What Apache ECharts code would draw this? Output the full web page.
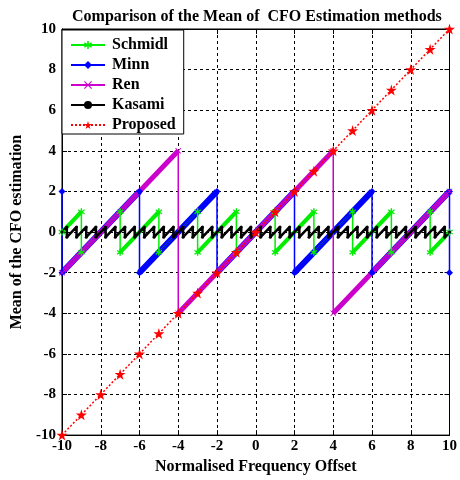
<!DOCTYPE html>
<html>
<head>
<meta charset="utf-8">
<script src="https://cdn.jsdelivr.net/npm/echarts@6/dist/echarts.min.js"></script>
<style>
  html, body { margin: 0; padding: 0; background: #fff; }
  #chart { width: 460px; height: 480px; }
</style>
</head>
<body>
<div id="chart"></div>
<script>
// vertices of each curve
const schmidlX = [-10, -9, -9, -7, -7, -5, -5, -3, -3, -1, -1, 1, 1, 3, 3, 5, 5, 7, 7, 9, 9, 10];
const schmidlY = [0, 1, -1, 1, -1, 1, -1, 1, -1, 1, -1, 1, -1, 1, -1, 1, -1, 1, -1, 1, -1, 0];

const minnX = [-10, -10, -6, -6, -2, -2, 2, 2, 6, 6, 10, 10];
const minnY = [2, -2, 2, -2, 2, -2, 2, -2, 2, -2, 2, -2];

const renX = [-10, -4, -4, 4, 4, 10];
const renY = [-2, 4, -4, 4, -4, 2];

const kasamiX = [-10,
  -9.75, -9.75, -9.25, -9.25, -8.75, -8.75, -8.25, -8.25, -7.75, -7.75,
  -7.25, -7.25, -6.75, -6.75, -6.25, -6.25, -5.75, -5.75, -5.25, -5.25,
  -4.75, -4.75, -4.25, -4.25, -3.75, -3.75, -3.25, -3.25, -2.75, -2.75,
  -2.25, -2.25, -1.75, -1.75, -1.25, -1.25, -0.75, -0.75, -0.25, -0.25,
  0.25, 0.25, 0.75, 0.75, 1.25, 1.25, 1.75, 1.75, 2.25, 2.25,
  2.75, 2.75, 3.25, 3.25, 3.75, 3.75, 4.25, 4.25, 4.75, 4.75,
  5.25, 5.25, 5.75, 5.75, 6.25, 6.25, 6.75, 6.75, 7.25, 7.25,
  7.75, 7.75, 8.25, 8.25, 8.75, 8.75, 9.25, 9.25, 9.75, 9.75,
  10];
const kasamiY = [0,
  0.25, -0.25, 0.25, -0.25, 0.25, -0.25, 0.25, -0.25, 0.25, -0.25,
  0.25, -0.25, 0.25, -0.25, 0.25, -0.25, 0.25, -0.25, 0.25, -0.25,
  0.25, -0.25, 0.25, -0.25, 0.25, -0.25, 0.25, -0.25, 0.25, -0.25,
  0.25, -0.25, 0.25, -0.25, 0.25, -0.25, 0.25, -0.25, 0.25, -0.25,
  0.25, -0.25, 0.25, -0.25, 0.25, -0.25, 0.25, -0.25, 0.25, -0.25,
  0.25, -0.25, 0.25, -0.25, 0.25, -0.25, 0.25, -0.25, 0.25, -0.25,
  0.25, -0.25, 0.25, -0.25, 0.25, -0.25, 0.25, -0.25, 0.25, -0.25,
  0.25, -0.25, 0.25, -0.25, 0.25, -0.25, 0.25, -0.25, 0.25, -0.25,
  0];

const proposedX = [-10, -9, -8, -7, -6, -5, -4, -3, -2, -1, 0, 1, 2, 3, 4, 5, 6, 7, 8, 9, 10];
const proposedY = [-10, -9, -8, -7, -6, -5, -4, -3, -2, -1, 0, 1, 2, 3, 4, 5, 6, 7, 8, 9, 10];

const legendNames = ['Schmidl', 'Minn', 'Ren', 'Kasami', 'Proposed'];

const FONT = "'Liberation Serif', 'Times New Roman', serif";
const COLORS = {
  SCHMIDL: '#00ee00',
  MINN: '#0000ff',
  REN: '#cc00cc',
  KASAMI: '#000000',
  PROPOSED: '#ff0000',
};

const SYMBOLS = {
  STAR5: 'path://M50,0L61,35L98,35L68,57L79,91L50,70L21,91L32,57L2,35L39,35Z',
  CROSS: 'path://M0,1L1,0L5,4L9,0L10,1L6,5L10,9L9,10L5,6L1,10L0,9L4,5Z',
  ASTER: 'path://M4,0L6,0L6,3.5L9,1.5L10,3L7,5L10,7L9,8.5L6,6.5L6,10L4,10L4,6.5L1,8.5L0,7L3,5L0,3L1,1.5L4,3.5Z',
};

const zipXY = (xs, ys) => xs.map((x, i) => [x, ys[i]]);

// the sloped parts are drawn thick (the dense markers in the original), the jumps thin
const rampSegments = (xs, ys) => {
  const segs = [];
  for (let i = 0; i < xs.length - 1; i++) {
    if (xs[i] !== xs[i + 1]) {
      segs.push({ coords: [[xs[i], ys[i]], [xs[i + 1], ys[i + 1]]] });
    }
  }
  return segs;
};

const lineSeries = (name, xs, ys, color, symbol, symbolSize, width) => ({
  name: name,
  type: 'line',
  data: zipXY(xs, ys),
  symbol: symbol,
  symbolSize: symbolSize,
  showAllSymbol: true,
  clip: false,
  animation: false,
  itemStyle: { color: color },
  lineStyle: { color: color, width: width },
});

const rampSeries = (name, xs, ys, color, width) => ({
  name: name + ' ramps',
  type: 'lines',
  coordinateSystem: 'cartesian2d',
  polyline: false,
  data: rampSegments(xs, ys),
  silent: true,
  animation: false,
  lineStyle: { color: color, width: width, opacity: 1, cap: 'butt' },
});

const axisCommon = {
  min: -10,
  max: 10,
  interval: 2,
  axisLine: { show: true, onZero: false, lineStyle: { color: '#000', width: 1 } },
  axisTick: { show: true, inside: true, length: 5, lineStyle: { color: '#000' } },
};

const chart = echarts.init(document.getElementById('chart'), null, { renderer: 'canvas' });

chart.setOption({
  backgroundColor: '#fff',
  animation: false,
  title: {
    text: 'Comparison of the Mean of  CFO Estimation methods',
    left: 67,
    top: 4,
    textStyle: { fontFamily: FONT, fontSize: 16, fontWeight: 'bold', color: '#000' },
  },
  grid: { left: 62, right: 8, top: 29, bottom: 40, show: true, borderColor: '#000', borderWidth: 1 },
  legend: {
    data: legendNames,
    orient: 'vertical',
    left: 62,
    top: 30,
    itemWidth: 34,
    itemHeight: 10,
    itemGap: 4,
    padding: [7, 8, 1, 8],
    backgroundColor: '#fff',
    borderColor: '#000',
    borderWidth: 1,
    borderRadius: 0,
    textStyle: { fontFamily: FONT, fontSize: 16, lineHeight: 16, fontWeight: 'bold', color: '#000', padding: [0, 0, 0, 2] },
  },
  xAxis: [
    Object.assign({}, axisCommon, {
      type: 'value',
      position: 'bottom',
      name: 'Normalised Frequency Offset',
      nameLocation: 'middle',
      nameGap: 22,
      nameTextStyle: { fontFamily: FONT, fontSize: 16, fontWeight: 'bold', color: '#000' },
      axisLabel: { margin: 4, fontFamily: FONT, fontSize: 15, fontWeight: 'bold', color: '#000' },
      splitLine: { show: true, lineStyle: { color: '#000', type: [3, 3], width: 1 } },
    }),
    Object.assign({}, axisCommon, {
      type: 'value',
      position: 'top',
      axisLabel: { show: false },
      splitLine: { show: false },
    }),
  ],
  yAxis: [
    Object.assign({}, axisCommon, {
      type: 'value',
      position: 'left',
      name: 'Mean of the CFO estimation',
      nameLocation: 'middle',
      nameGap: 32,
      nameTextStyle: { fontFamily: FONT, fontSize: 16, fontWeight: 'bold', color: '#000' },
      axisLabel: { margin: 6, fontFamily: FONT, fontSize: 15, fontWeight: 'bold', color: '#000' },
      splitLine: { show: true, lineStyle: { color: '#000', type: [3, 3], width: 1 } },
    }),
    Object.assign({}, axisCommon, {
      type: 'value',
      position: 'right',
      axisLabel: { show: false },
      splitLine: { show: false },
    }),
  ],
  series: [
    lineSeries('Schmidl', schmidlX, schmidlY, COLORS.SCHMIDL, SYMBOLS.ASTER, 7, 1.5),
    rampSeries('Schmidl', schmidlX, schmidlY, COLORS.SCHMIDL, 4),
    lineSeries('Minn', minnX, minnY, COLORS.MINN, 'diamond', 7, 1.5),
    rampSeries('Minn', minnX, minnY, COLORS.MINN, 6),
    lineSeries('Ren', renX, renY, COLORS.REN, SYMBOLS.CROSS, 6, 1.5),
    rampSeries('Ren', renX, renY, COLORS.REN, 5),
    lineSeries('Kasami', kasamiX, kasamiY, COLORS.KASAMI, 'circle', 3, 2.5),
    Object.assign(lineSeries('Proposed', proposedX, proposedY, COLORS.PROPOSED, SYMBOLS.STAR5, 11, 1.5), {
      lineStyle: { color: COLORS.PROPOSED, width: 1.5, type: [2, 2] },
    }),
  ],
});
</script>
</body>
</html>
